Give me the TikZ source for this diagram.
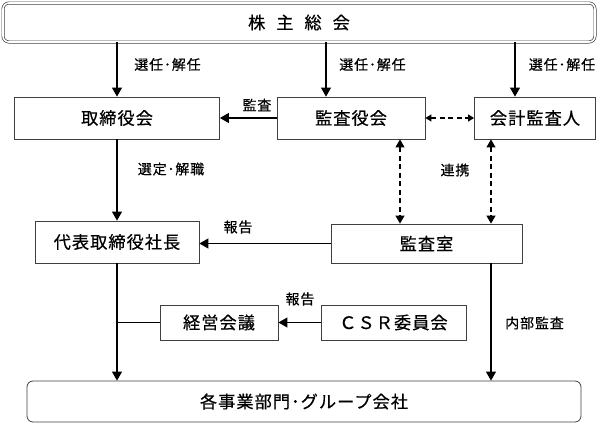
\documentclass[tikz,border=0pt]{standalone}
\usepackage{fontspec}
\setmainfont{Noto Sans CJK JP}[LetterSpace=6,FakeBold=0.5]
\newfontfamily\jplab{Noto Sans CJK JP}[LetterSpace=6,FakeBold=0.5]
\usetikzlibrary{arrows.meta}
\begin{document}
\begin{tikzpicture}[x=1pt,y=-1pt,
  box/.style={draw=black!75,line width=0.8pt,minimum height=42pt,inner sep=0pt,font=\fontsize{17.2}{19}\selectfont},
  rbox/.style={box,rounded corners=6pt},
  lab/.style={inner sep=0pt,font=\jplab\fontsize{14}{16}\selectfont},
  arr/.style={line width=1.1pt,-{Triangle[length=9pt,width=10pt]}},
  darr/.style={line width=1.1pt,dash pattern=on 5pt off 3.5pt,{Triangle[length=8pt,width=9pt]}-{Triangle[length=8pt,width=9pt]}},
  dharr/.style={line width=1.1pt,dash pattern=on 5pt off 3.5pt,{Triangle[length=6pt,width=7pt]}-{Triangle[length=6pt,width=7pt]}}
]
\useasboundingbox (0,0) rectangle (598,423);
% boxes
\node[box,rounded corners=6pt,double=white,double distance=1.6pt,line width=0.7pt,minimum width=592pt,minimum height=39pt] (top) at (299,22.5) {株\hspace{11pt}主\hspace{11pt}総\hspace{11pt}会};
\node[box,minimum width=205pt] (tori) at (117,118) {取締役会};
\node[box,minimum width=148pt] (kansa) at (351,118) {監査役会};
\node[box,minimum width=121pt] (kaikei) at (535,118) {会計監査人};
\node[box,minimum width=164pt] (daihyo) at (117,242) {代表取締役社長};
\node[box,minimum width=191pt,minimum height=39pt] (shitsu) at (426.5,243.5) {監査室};
\node[box,minimum width=118pt,minimum height=35pt] (keiei) at (219,322.5) {経営会議};
\node[box,minimum width=145pt,minimum height=35pt] (csr) at (393.5,322.5) {ＣＳＲ委員会};
\node[rbox,minimum width=554pt,minimum height=41pt] (bottom) at (304,401.5) {各事業部門･グループ会社};
% helper coordinates
\coordinate (k1) at ([xshift=-25pt]kansa.north);
\coordinate (a1) at ([xshift=-20pt]kaikei.north);
\coordinate (v1) at ([xshift=49pt]kansa.south);
\coordinate (v2) at ([xshift=-44pt]kaikei.south);
\coordinate (s1) at ([xshift=64.5pt]shitsu.south);
% connectors
\draw[arr] (tori.north |- top.south) -- (tori.north);
\draw[arr] (k1 |- top.south) -- (k1);
\draw[arr] (a1 |- top.south) -- (a1);
\draw[arr] (kansa.west) -- (tori.east);
\draw[dharr] (kansa.east) -- (kaikei.west);
\draw[arr] (tori.south) -- (daihyo.north);
\draw[darr] (v1) -- (v1 |- shitsu.north);
\draw[darr] (v2) -- (v2 |- shitsu.north);
\draw[arr] (shitsu.west) -- (shitsu.west -| daihyo.east);
\draw[arr] (daihyo.south) -- (daihyo.south |- bottom.north);
\draw[line width=1.1pt] (keiei.west) -- (keiei.west -| daihyo.south);
\draw[arr] (csr.west) -- (keiei.east);
\draw[arr] (s1) -- (s1 |- bottom.north);
% labels
\node[lab] (l1) at (167.5,64.5) {選任･解任};
\node[lab] (l2) at (372.5,64.5) {選任･解任};
\node[lab] (l3) at (562,64.5) {選任･解任};
\node[lab] (l4) at (257,105) {監査};
\node[lab] (l5) at (171,169) {選定･解職};
\node[lab] (l6) at (455,170) {連携};
\node[lab] (l7) at (238,227) {報告};
\node[lab] (l8) at (300,299) {報告};
\node[lab] (l9) at (534.5,323) {内部監査};
\end{tikzpicture}
\end{document}
